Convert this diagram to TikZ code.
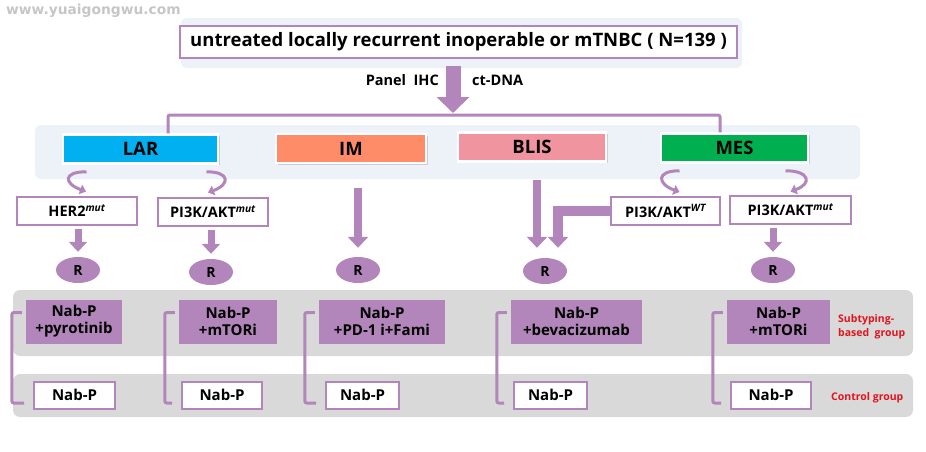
\documentclass[tikz,border=0pt]{standalone}
\usepackage{fontspec}
\setmainfont{Open Sans}[BoldFont={Open Sans Bold}, BoldItalicFont={Open Sans Bold Italic}]
\newfontfamily\wmfont{DejaVu Sans}[BoldFont={DejaVu Sans Bold}]
\usetikzlibrary{arrows.meta,positioning,calc,shapes.geometric,shadows}
\definecolor{vio}{HTML}{B286BA}
\definecolor{larc}{HTML}{00B0F0}
\definecolor{imc}{HTML}{FF8C69}
\definecolor{blisc}{HTML}{F0959F}
\definecolor{mesc}{HTML}{00B050}
\definecolor{bandb}{HTML}{EDF1F8}
\definecolor{bandg}{HTML}{D9D9D9}
\definecolor{redt}{HTML}{E0141E}
\newcommand{\fs}[1]{\bfseries\fontsize{#1}{#1}\selectfont}

\begin{document}
\begin{tikzpicture}[x=1pt, y=-1pt,
  every node/.style={inner sep=0pt},
  hdr/.style={draw=vio, line width=2pt, fill=white, minimum width=557pt,
              minimum height=32pt, font=\fs{18.5}},
  typ/.style={draw=white, line width=2.5pt, minimum height=29pt, font=\fs{18.5},
              drop shadow={opacity=.3, shadow xshift=1.5pt, shadow yshift=-1.5pt}},
  gen/.style={draw=vio, line width=2pt, fill=white, minimum height=28pt, font=\fs{14.5}},
  rnd/.style={ellipse, fill=vio, minimum width=44pt, minimum height=26pt, font=\fs{14}},
  trt/.style={fill=vio, minimum height=44pt, align=center,
              font=\bfseries\fontsize{15}{17}\selectfont},
  ctl/.style={draw=vio, line width=2pt, fill=white, minimum height=27pt, font=\fs{15}},
  lbl/.style={font=\fs{14.5}},
  note/.style={text=redt, font=\bfseries\fontsize{10.5}{14}\selectfont},
  link/.style={draw=vio, line width=3pt, rounded corners=2pt},
  brk/.style={draw=vio, line width=3pt, rounded corners=2pt, shorten >=9pt},
  curv/.style={draw=vio, line width=3pt, -{Triangle[width=10pt,length=6pt]}},
  arr/.style={draw=vio, line width=7pt, -{Triangle[width=18pt,length=10pt]},
              shorten <=3pt, shorten >=5pt},
  mid/.style={draw=vio, line width=8pt, -{Triangle[width=20pt,length=11pt]}},
  huge/.style={draw=vio, line width=15pt, -{Triangle[width=32pt,length=16pt]},
               shorten <=7pt, shorten >=2pt}
]
  \useasboundingbox (0,0) rectangle (926,451);
  \node[font=\wmfont\fs{13.8}, text=gray!45, anchor=west] (wm) at (6,11) {www.yuaigongwu.com};

  % bands
  \fill[bandb, rounded corners=6pt] (181,18) rectangle (742,68);
  \fill[bandb, rounded corners=6pt] (35,125) rectangle (860,179);
  \fill[bandg, rounded corners=7pt] (13,290) rectangle (913,356);
  \fill[bandg, rounded corners=7pt] (13,374) rectangle (913,417);

  \node[hdr] (top) at (458.5,42) {untreated locally recurrent inoperable or mTNBC ( N=139 )};

  % subtypes
  \foreach \n/\x/\y/\w/\c/\lab in {lar/140.5/149/155/larc/LAR, im/351/148.5/150/imc/IM,
                                   blis/532/147/148/blisc/BLIS, mes/734.5/148/147/mesc/MES} {
    \node[typ, fill=\c, minimum width=\w pt] (\n) at (\x,\y) {\lab};
  }
  \coordinate (bar) at (453,115);
  \draw[link] ([xshift=27.5pt]lar.north) |- (bar) -| ([xshift=-14.5pt]mes.north);
  \draw[huge] ([xshift=-5.5pt]top.south) -- (bar);
  \node[lbl, anchor=east] (pan) at (439,80) {Panel\ \ IHC};
  \node[lbl, anchor=west] (ctd) at (472,80) {ct-DNA};

  % mutation status
  \node[gen, minimum width=120pt] (her) at (77,210.5) {HER2\textsuperscript{\itshape mut}};
  \node[gen, minimum width=110pt] (pla) at (213,211.5) {PI3K/AKT\textsuperscript{\itshape mut}};
  \node[gen, minimum width=109pt] (pwt) at (665.5,211) {PI3K/AKT\textsuperscript{\itshape WT}};
  \node[gen, minimum width=121pt] (pmm) at (790.5,209.5) {PI3K/AKT\textsuperscript{\itshape mut}};

  \draw[curv] ([xshift=-54pt,yshift=-7pt]lar.south) .. controls +(-24,0) and +(-22,-8) .. ([xshift=9pt,yshift=4pt]her.north);
  \draw[curv] ([xshift=66pt,yshift=-7pt]lar.south) .. controls +(24,0) and +(22,-8) .. ([xshift=-5pt,yshift=4pt]pla.north);
  \draw[curv] ([xshift=-55pt,yshift=-7pt]mes.south) .. controls +(-24,0) and +(-22,-8) .. ([xshift=14pt,yshift=4pt]pwt.north);
  \draw[curv] ([xshift=51pt,yshift=-7pt]mes.south) .. controls +(24,0) and +(22,-8) .. ([xshift=0pt,yshift=3pt]pmm.north);

  % randomisation
  \foreach \n/\x/\y in {1/78/270, 2/211/272, 3/358/270, 4/545/271, 5/773/270} {
    \node[rnd] (r\n) at (\x,\y) {R};
  }
  \draw[arr] (her.south -| r1.north) -- (r1.north);
  \draw[arr] (pla.south -| r2.north) -- (r2.north);
  \draw[mid, shorten <=24pt, shorten >=9pt] (im.south -| r3.north) -- (r3.north);
  \coordinate (b4) at ([xshift=-8pt]r4.north);
  \coordinate (b4e) at ([xshift=13pt]r4.north);
  \draw[mid, shorten <=17pt, shorten >=10pt] (blis.south -| b4) -- (b4);
  \draw[mid, line width=10pt, shorten >=10pt] (pwt.west) -| (b4e);
  \draw[arr] (pmm.south -| r5.north) -- (r5.north);

  % arms
  \foreach \n/\tx/\tw/\cx/\cw/\lab in {1/74/96/74.5/81/{Nab-P\\+pyrotinib},
      2/228/98/222/80/{Nab-P\\+mTORi}, 3/382/126/362.5/73/{Nab-P\\+PD-1 i+Fami},
      4/576.5/131/550.5/73/{Nab-P\\+bevacizumab}, 5/778.5/103/771/80/{Nab-P\\+mTORi}} {
    \node[trt, minimum width=\tw pt] (t\n) at (\tx,321.5) {\lab};
    \node[ctl, minimum width=\cw pt] (c\n) at (\cx,395) {Nab-P};
    \draw[brk] ([xshift=-4pt,yshift=9pt]t\n.west) -- ++(-10,0) |- ([yshift=-8pt]c\n.west);
  }
  \node[note, anchor=west, align=left] (sbg) at (838,327) {Subtyping-\\based\ \ group};
  \node[note, anchor=west] (ctg) at (831,398) {Control group};
\end{tikzpicture}
\end{document}
